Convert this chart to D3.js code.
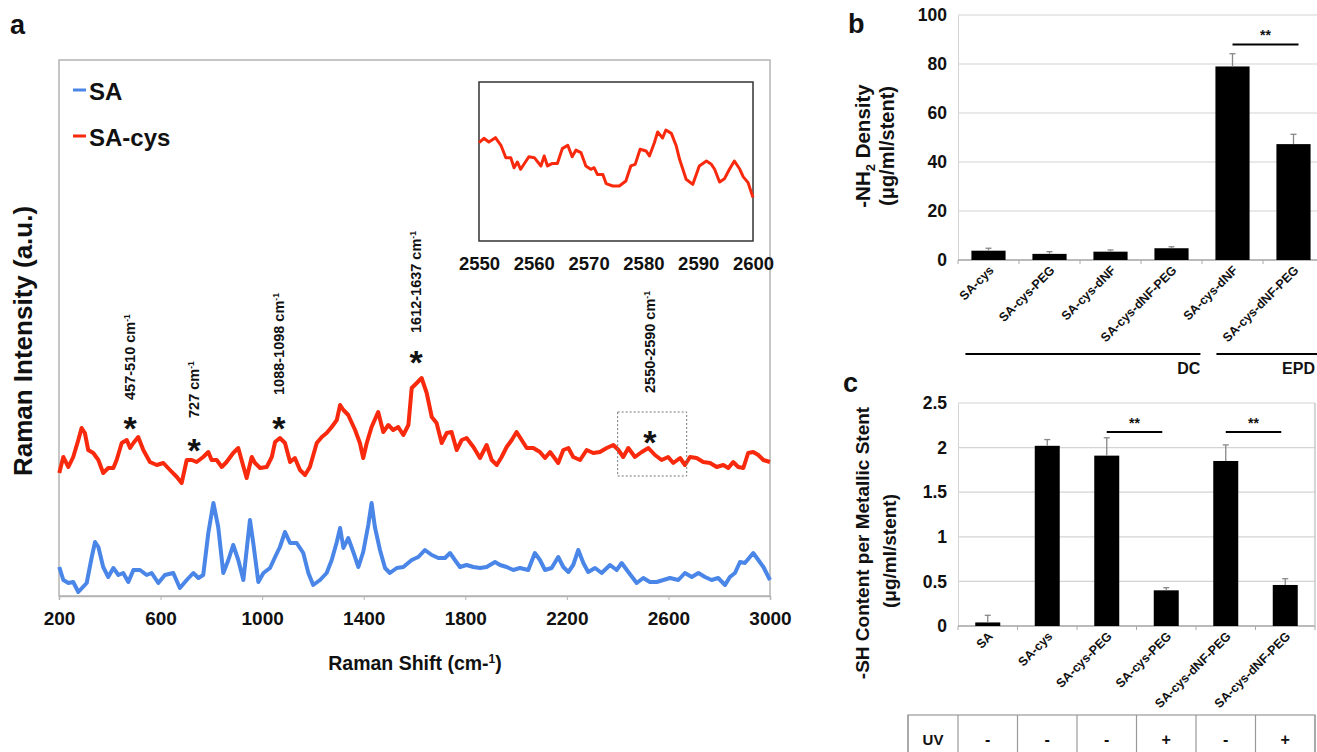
<!DOCTYPE html>
<html><head><meta charset="utf-8">
<script src="https://cdn.jsdelivr.net/npm/d3@7"></script>
<style>
body{margin:0;background:#fff}
text{font-family:"Liberation Sans",Arial,Helvetica,sans-serif;font-weight:bold;fill:#111}
</style>
</head><body>
<svg id="chart" width="1317" height="752"></svg>
<script>
// ---------- Panel a: Raman spectra ----------
const shiftTicks=[200,600,1000,1400,1800,2200,2600,3000];
const redShift=[201,217,237,256,276,289,302,315,335,355,374,394,414,427,447,467,480,493,512,532,558,585,611,637,664,683,703,723,742,768,788,801,821,841,860,886,906,919,939,959,972,992,1018,1038,1051,1070,1090,1110,1129,1149,1169,1188,1215,1235,1254,1274,1294,1307,1320,1339,1366,1385,1398,1412,1431,1457,1477,1497,1516,1536,1556,1576,1589,1609,1628,1648,1668,1687,1707,1727,1746,1766,1786,1805,1832,1858,1884,1904,1924,1943,1963,1983,2002,2022,2042,2068,2094,2114,2134,2166,2186,2206,2225,2252,2278,2304,2330,2357,2383,2403,2422,2442,2468,2495,2521,2547,2573,2599,2619,2646,2665,2685,2711,2737,2764,2790,2816,2836,2855,2875,2895,2914,2934,2954,2974,3000];
const redIntensity=[123,139,129,139,156,168,163,146,143,136,123,128,128,136,153,156,148,153,159,146,134,131,133,126,119,113,136,136,134,139,144,136,136,129,134,143,148,136,118,139,133,128,129,139,154,158,153,134,138,126,121,129,153,159,163,169,176,191,186,181,166,153,138,153,169,184,164,171,166,169,161,171,208,213,218,203,179,173,153,163,164,146,156,158,149,138,151,136,131,139,149,156,164,156,148,148,144,138,144,133,146,148,139,136,146,143,144,148,151,146,139,148,139,144,148,141,136,139,133,138,131,139,138,134,133,129,131,128,134,129,128,143,144,141,136,134];
const blueShift=[201,217,237,256,276,309,329,342,355,374,394,414,434,453,473,493,519,545,565,591,617,650,676,703,729,749,768,788,808,827,847,867,886,906,926,939,952,965,985,1005,1031,1051,1070,1090,1110,1136,1162,1182,1201,1228,1254,1274,1294,1307,1320,1339,1359,1379,1398,1418,1431,1444,1464,1484,1503,1530,1556,1589,1615,1641,1668,1694,1720,1740,1759,1779,1805,1832,1858,1884,1917,1937,1963,1989,2015,2048,2074,2094,2114,2140,2166,2186,2206,2225,2245,2265,2284,2311,2337,2370,2396,2416,2442,2475,2501,2527,2554,2580,2606,2639,2665,2692,2718,2744,2770,2796,2823,2842,2862,2882,2901,2921,2934,2954,2974,3000];
const blueIntensity=[29,16,13,14,4,13,39,54,49,29,19,28,21,23,14,26,26,21,23,13,21,23,8,16,23,18,21,63,93,69,23,36,51,36,16,46,76,53,14,23,28,39,49,64,53,53,43,23,11,16,23,36,54,68,48,58,44,29,44,71,93,69,46,28,23,28,29,36,39,46,41,38,38,43,36,29,31,29,28,29,34,31,29,26,28,26,43,36,26,28,39,29,24,31,46,33,24,28,23,31,26,33,24,13,18,14,14,16,18,16,23,19,23,19,16,18,11,19,23,34,33,39,43,36,29,16];
const seriesNames=["SA","SA-cys"];
const seriesColors=["#4a86e8","#f8290c"];
const peakShift=[480,732,1066,1606,2527];
const peakStarIntensity=[175,153,175,241,161];
const peakLabelIntensity=[196,178,201,263,203];
const peakLabels=["457-510","727","1088-1098","1612-1637","2550-2590"];
const zoomBoxShift=[2400,2672];
const zoomBoxIntensity=[120,184];
// inset
const insetTicks=[2550,2560,2570,2580,2590,2600];
const insetShift=[2550.0,2550.9,2551.8,2553.0,2554.0,2554.9,2555.8,2556.4,2557.0,2557.6,2559.1,2560.1,2561.3,2561.9,2562.5,2563.4,2564.3,2565.2,2566.2,2567.0,2567.7,2568.6,2569.5,2570.4,2571.0,2571.6,2572.6,2573.2,2574.4,2575.6,2576.8,2577.7,2578.5,2579.4,2580.5,2581.1,2582.0,2582.6,2583.5,2584.1,2585.1,2586.0,2586.6,2587.8,2589.0,2590.2,2591.5,2592.4,2593.0,2593.9,2594.8,2595.7,2596.6,2597.6,2598.2,2599.1,2600.0];
const insetIntensity=[61.8,64.6,62.3,65.0,60.2,52.4,52.4,46.1,49.7,45.1,53.0,52.4,47.2,53.5,47.2,48.8,48.8,58.1,60.2,53.0,57.2,55.6,47.2,45.1,46.1,41.9,41.9,36.1,34.6,34.6,37.7,47.2,48.2,57.7,56.6,53.5,61.8,68.6,64.8,69.8,67.7,59.7,51.4,38.8,35.6,47.2,50.3,48.2,45.1,37.1,39.2,45.1,50.3,45.1,40.5,36.7,27.3];

// ---------- Panel b ----------
const amineCats=["SA-cys","SA-cys-PEG","SA-cys-dNF","SA-cys-dNF-PEG","SA-cys-dNF","SA-cys-dNF-PEG"];
const amineMeans=[3.8,2.5,3.4,4.8,79,47.3];
const amineErr=[1.0,0.9,0.7,0.6,5.2,4.0];
const amineTicks=[0,20,40,60,80,100];
const amineGroups=["DC","EPD"];

// ---------- Panel c ----------
const thiolCats=["SA","SA-cys","SA-cys-PEG","SA-cys-PEG","SA-cys-dNF-PEG","SA-cys-dNF-PEG"];
const thiolMeans=[0.04,2.02,1.91,0.40,1.85,0.46];
const thiolErr=[0.08,0.07,0.2,0.03,0.18,0.07];
const thiolUV=["-","-","-","+","-","+"];
const thiolTicks=[0,0.5,1,1.5,2,2.5];

const svg=d3.select("#chart");

// ===== Panel a =====
const xA=d3.scaleLinear().domain([200,3000]).range([59,770]);
const yA=d3.scaleLinear().domain([0,536]).range([596,60]);
const gA=svg.append("g");
gA.append("text").attr("x",10).attr("y",34).style("font-size","27px").text("a");
gA.append("rect").attr("x",59).attr("y",60).attr("width",711).attr("height",536)
  .attr("fill","none").attr("stroke","#b4b4b4").attr("stroke-width",1.5);
const axA=gA.append("g").attr("transform","translate(0,596)")
  .call(d3.axisBottom(xA).tickValues(shiftTicks).tickSize(4).tickPadding(12).tickFormat(d3.format("d")));
axA.select(".domain").attr("stroke","#b4b4b4").attr("stroke-width",1.5);
axA.selectAll(".tick line").attr("stroke","#b4b4b4");
axA.selectAll(".tick text").style("font-size","19px").style("font-family",null).attr("fill","#111");
const xt=gA.append("text").attr("x",415).attr("y",670).attr("text-anchor","middle").style("font-size","19.5px");
xt.append("tspan").text("Raman Shift (cm-");
xt.append("tspan").attr("dy",-7).style("font-size","12px").text("1");
xt.append("tspan").attr("dy",7).text(")");
gA.append("text").attr("transform","translate(32,341) rotate(-90)").attr("text-anchor","middle")
  .style("font-size","26px").text("Raman Intensity (a.u.)");

const lineA=d3.line().x(d=>xA(d[0])).y(d=>yA(d[1]));
gA.append("path").datum(blueShift.map((s,i)=>[s,blueIntensity[i]]))
  .attr("d",lineA).attr("fill","none").attr("stroke",seriesColors[0]).attr("stroke-width",4).attr("stroke-linejoin","round");
gA.append("path").datum(redShift.map((s,i)=>[s,redIntensity[i]]))
  .attr("d",lineA).attr("fill","none").attr("stroke",seriesColors[1]).attr("stroke-width",4).attr("stroke-linejoin","round");

// legend
seriesNames.forEach((n,i)=>{
  const ly=90+i*46;
  gA.append("line").attr("x1",73).attr("x2",86).attr("y1",ly).attr("y2",ly)
    .attr("stroke",seriesColors[i]).attr("stroke-width",3);
  gA.append("text").attr("x",89).attr("y",ly+10).style("font-size","24px").text(n);
});

// zoom box
gA.append("rect").attr("x",xA(zoomBoxShift[0])).attr("y",yA(zoomBoxIntensity[1]))
  .attr("width",xA(zoomBoxShift[1])-xA(zoomBoxShift[0])).attr("height",yA(zoomBoxIntensity[0])-yA(zoomBoxIntensity[1]))
  .attr("fill","none").attr("stroke","#777").attr("stroke-width",1).attr("stroke-dasharray","2,2");

// peak annotations
peakShift.forEach((s,i)=>{
  gA.append("text").attr("x",xA(s)).attr("y",yA(peakStarIntensity[i])+19).attr("text-anchor","middle")
    .style("font-size","34px").text("*");
  const t=gA.append("text").attr("transform",`translate(${xA(s)+5},${yA(peakLabelIntensity[i])}) rotate(-90)`)
    .style("font-size","14.5px");
  t.append("tspan").text(peakLabels[i]+" cm");
  t.append("tspan").attr("dy",-5).style("font-size","8.5px").text("-1");
});

// inset
const xI=d3.scaleLinear().domain([2550,2600]).range([479,753]);
const yI=d3.scaleLinear().domain([0,100]).range([241,82]);
gA.append("rect").attr("x",479).attr("y",82).attr("width",274).attr("height",159)
  .attr("fill","#fff").attr("stroke","#333").attr("stroke-width",1.5);
const axI=gA.append("g").attr("transform","translate(0,241)")
  .call(d3.axisBottom(xI).tickValues(insetTicks).tickSize(0).tickPadding(16).tickFormat(d3.format("d")));
axI.select(".domain").remove();
axI.selectAll(".tick text").style("font-size","18.5px").style("font-family",null).attr("fill","#111");
gA.append("path").datum(insetShift.map((s,i)=>[s,insetIntensity[i]]))
  .attr("d",d3.line().x(d=>xI(d[0])).y(d=>yI(d[1])))
  .attr("fill","none").attr("stroke","#f8290c").attr("stroke-width",3).attr("stroke-linejoin","round");

// ===== bar chart helper =====
function barPanel(opt){
  const g=svg.append("g");
  const idx=d3.range(opt.cats.length);
  const x=d3.scaleBand().domain(idx).range(opt.xr).paddingInner(opt.pi).paddingOuter(opt.po);
  const y=d3.scaleLinear().domain(opt.yd).range(opt.yr);
  g.selectAll(".grid").data(opt.ticks).join("line")
    .attr("x1",opt.xr[0]).attr("x2",opt.gridEnd).attr("y1",d=>y(d)).attr("y2",d=>y(d))
    .attr("stroke","#d4d4d4").attr("stroke-width",1.2);
  const ya=g.append("g").attr("transform",`translate(${opt.xr[0]},0)`)
    .call(d3.axisLeft(y).tickValues(opt.ticks).tickSize(0).tickPadding(11).tickFormat(d3.format("")));
  ya.select(".domain").attr("stroke","#d4d4d4");
  ya.selectAll(".tick text").style("font-size","17.5px").style("font-family",null).attr("fill","#111");
  g.append("line").attr("x1",opt.xr[0]).attr("x2",opt.gridEnd).attr("y1",y(0)).attr("y2",y(0))
    .attr("stroke","#aaa").attr("stroke-width",1.5);
  const step=x.step();
  d3.range(opt.cats.length+1).forEach(k=>{
    const bx=opt.xr[0]+k*step;
    g.append("line").attr("x1",bx).attr("x2",bx).attr("y1",y(0)).attr("y2",y(0)+4).attr("stroke","#aaa");
  });
  g.selectAll(".bar").data(idx).join("rect")
    .attr("x",i=>x(i)).attr("width",x.bandwidth()).attr("y",i=>y(opt.means[i]))
    .attr("height",i=>y(0)-y(opt.means[i])).attr("fill","#000");
  idx.forEach(i=>{
    const cx=x(i)+x.bandwidth()/2;
    g.append("line").attr("x1",cx).attr("x2",cx).attr("y1",y(opt.means[i])).attr("y2",y(opt.means[i]+opt.err[i]))
      .attr("stroke","#888").attr("stroke-width",1.3);
    g.append("line").attr("x1",cx-3).attr("x2",cx+3).attr("y1",y(opt.means[i]+opt.err[i])).attr("y2",y(opt.means[i]+opt.err[i]))
      .attr("stroke","#888").attr("stroke-width",1.3);
  });
  idx.forEach(i=>{
    const cx=x(i)+x.bandwidth()/2;
    g.append("text").attr("transform",`translate(${cx+6},${y(0)+11}) rotate(-45)`)
      .attr("text-anchor","end").style("font-size","12.5px").text(opt.cats[i]);
  });
  opt.sig.forEach(s=>{
    const x1=x(s[0])+x.bandwidth()/2, x2=x(s[1])+x.bandwidth()/2+opt.sigExt;
    g.append("line").attr("x1",x1).attr("x2",x2).attr("y1",y(s[2])).attr("y2",y(s[2]))
      .attr("stroke","#000").attr("stroke-width",2);
    g.append("text").attr("x",(x1+x2)/2).attr("y",y(s[2])-4).attr("text-anchor","middle")
      .style("font-size","14px").text("**");
  });
  return {g,x,y,step};
}

// ===== Panel b =====
const pb=barPanel({cats:amineCats,means:amineMeans,err:amineErr,ticks:amineTicks,
  xr:[958,1324],yd:[0,100],yr:[260,15],pi:0.44,po:0.22,gridEnd:1317,
  sig:[[4,5,88]],sigExt:5});
svg.append("text").attr("x",848).attr("y",33).style("font-size","27px").text("b");
const tb=svg.append("text").attr("transform","translate(870,146) rotate(-90)").attr("text-anchor","middle").style("font-size","20.5px");
tb.append("tspan").text("-NH");
tb.append("tspan").attr("dy",5).style("font-size","13px").text("2");
tb.append("tspan").attr("dy",-5).text(" Density");
svg.append("text").attr("transform","translate(894,146) rotate(-90)").attr("text-anchor","middle").style("font-size","20px").text("(μg/ml/stent)");
{
  const x=pb.x;
  const dc0=x(0)-6, dc1=x(4)-15, epd0=x(4)+1, epd1=1330;
  svg.append("line").attr("x1",dc0).attr("x2",dc1).attr("y1",354).attr("y2",354).attr("stroke","#000").attr("stroke-width",2);
  svg.append("line").attr("x1",epd0).attr("x2",epd1).attr("y1",354).attr("y2",354).attr("stroke","#000").attr("stroke-width",2);
  svg.append("text").attr("x",dc1).attr("y",374).attr("text-anchor","end").style("font-size","16px").text(amineGroups[0]);
  svg.append("text").attr("x",1315).attr("y",374).attr("text-anchor","end").style("font-size","16px").text(amineGroups[1]);
}

// ===== Panel c =====
const pc=barPanel({cats:thiolCats,means:thiolMeans,err:thiolErr,ticks:thiolTicks,
  xr:[958,1315],yd:[0,2.5],yr:[626,403],pi:0.58,po:0.29,gridEnd:1315,
  sig:[[2,3,2.175],[4,5,2.175]],sigExt:-4});
pc.g.append("line").attr("x1",1315).attr("x2",1315).attr("y1",403).attr("y2",626).attr("stroke","#bbb").attr("stroke-width",1.2);
svg.append("text").attr("x",843).attr("y",392).style("font-size","27px").text("c");
svg.append("text").attr("transform","translate(869,543) rotate(-90)").attr("text-anchor","middle").style("font-size","19px").text("-SH Content per Metallic Stent");
svg.append("text").attr("transform","translate(896,551) rotate(-90)").attr("text-anchor","middle").style("font-size","19px").text("(μg/ml/stent)");
{
  const step=pc.step, x0=958, top=715, bot=760;
  svg.append("rect").attr("x",908).attr("y",top).attr("width",1315-908).attr("height",bot-top)
    .attr("fill","none").attr("stroke","#999").attr("stroke-width",1.2);
  [908].concat(d3.range(7).map(k=>x0+k*step)).forEach(bx=>{
    svg.append("line").attr("x1",bx).attr("x2",bx).attr("y1",top).attr("y2",bot).attr("stroke","#999").attr("stroke-width",1.2);
  });
  svg.append("text").attr("x",933).attr("y",745).attr("text-anchor","middle").style("font-size","15px").text("UV");
  thiolUV.forEach((u,i)=>{
    svg.append("text").attr("x",x0+(i+0.5)*step).attr("y",745).attr("text-anchor","middle").style("font-size","16px").text(u);
  });
}
</script>
</body></html>
